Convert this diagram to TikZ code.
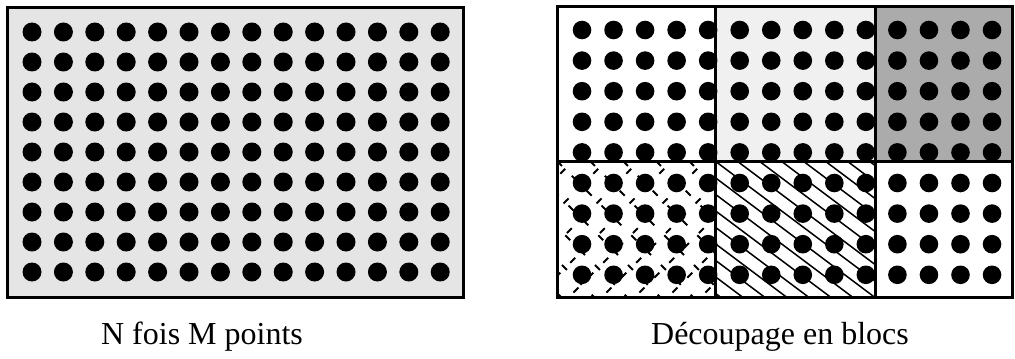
\documentclass[tikz,border=0pt]{standalone}
\usepackage{fontspec}
\setmainfont{Liberation Serif}
\usetikzlibrary{calc}
\tikzset{
  frameBox/.style={draw=black, line width=1.5pt},
  blkLine/.style={draw=black, line width=1.5pt},
  gridDot/.style={fill=black},
  hatchLn/.style={draw=black, line width=0.75pt},
  dashLn/.style={draw=black, line width=0.9pt, dash pattern=on 3.5pt off 7pt},
  capTxt/.style={font=\fontsize{16}{19}\selectfont, inner sep=0pt},
}

\begin{document}
\begin{tikzpicture}[x=0.5pt, y=-0.5pt]
\useasboundingbox (0,0) rectangle (1015,358);

%% left: N x M points
\fill[black!10] (7,8) rectangle (463,297);
\foreach \i in {0,...,13}
  \foreach \j in {0,...,8}
    \fill[gridDot] (32+31.4*\i, 32+30*\j) circle (9.5);
\draw[frameBox] (7,8) rectangle (463,297);

%% right: same points, cut into blocks
\fill[black!6]  (715,7) rectangle (875,161);
\fill[black!33] (875,7) rectangle (1012,161);
\begin{scope}
  \clip (715,161) rectangle (875,297);
  \foreach \k in {-330,-308,...,176}
    \draw[hatchLn] (715+\k,161) -- ++(300,225);
\end{scope}
\begin{scope}
  \clip (557,161) rectangle (715,297);
  \foreach \k in {-198,-165,...,176}
    \draw[dashLn] (557+\k,161) -- ++(200,200);
  \foreach \k in {16,49,...,380}
    \draw[dashLn, dash phase=5pt] (557+\k,161) -- ++(-200,200);
\end{scope}
\foreach \i in {0,...,13}
  \foreach \j in {0,...,8}
    \fill[gridDot] (582+31.54*\i, 30+30.6*\j) circle (9.3);
\draw[frameBox] (557,7) rectangle (1012,297);
\draw[blkLine] (557,161) -- (1012,161);
\draw[blkLine] (715,7) -- (715,297);
\draw[blkLine] (875,7) -- (875,297);

%% captions
\node[capTxt] (lblGrid)   at (202,337) {N fois M points};
\node[capTxt] (lblBlocks) at (780,337) {Découpage en blocs};
\end{tikzpicture}
\end{document}
